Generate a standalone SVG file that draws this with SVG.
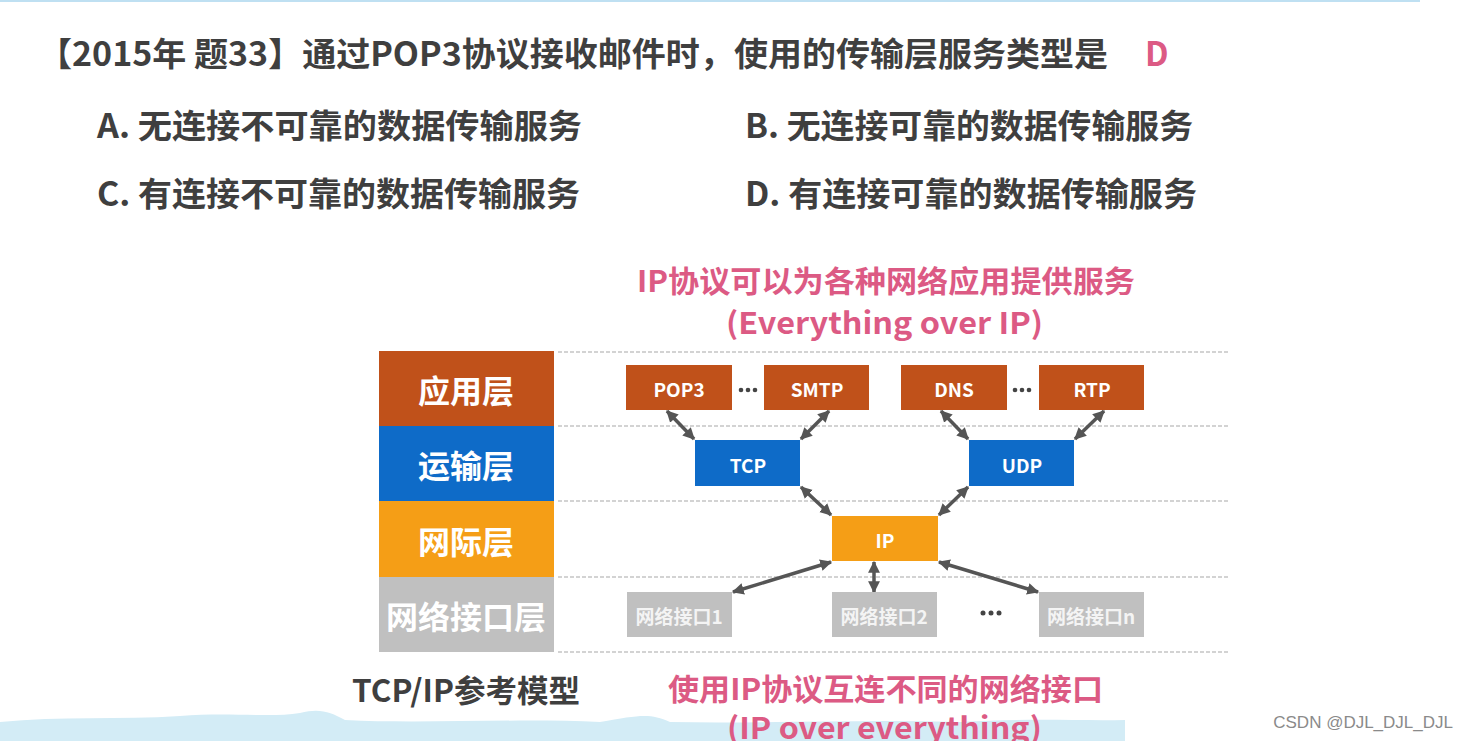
<svg xmlns="http://www.w3.org/2000/svg" width="1469" height="741" viewBox="0 0 1469 741">
<style>
.t{font-family:"Noto Sans CJK SC","Noto Sans",sans-serif;font-weight:bold;dominant-baseline:central}
.q{fill:#3f3f3f;font-size:33px}
.pk{fill:#dc5a84;font-size:30px}
.lay{fill:#ffffff;font-size:32px;text-anchor:middle}
.bx{fill:#ffffff;font-size:19px;text-anchor:middle}
.ni{fill:#f4f4f4;font-size:19px;text-anchor:middle}
.dash{stroke:#a8a8a8;stroke-width:1.2;stroke-dasharray:4 2;fill:none}
.arr{stroke:#555555;stroke-width:3.5;fill:none;marker-start:url(#ah);marker-end:url(#ah)}
.dot{fill:#444444}
</style>
<defs>
<marker id="ah" viewBox="0 0 10 10" refX="9" refY="5" markerWidth="3.4" markerHeight="3.6" orient="auto-start-reverse" markerUnits="strokeWidth">
<path d="M0,0 L10,5 L0,10 Z" fill="#555555"/>
</marker>
</defs>
<rect x="0" y="0" width="1469" height="741" fill="#ffffff"/>
<rect x="0" y="0" width="1420" height="2" fill="#bfe0f2"/>
<path d="M0,741 L0,722 C60,716 120,720 180,716 C230,712 270,718 300,713 C320,708 330,712 345,720 C420,724 520,718 600,722 C640,715 650,713 670,722 C760,724 860,719 960,722 C1030,718 1080,721 1125,720 L1125,741 Z" fill="#d3ecf6"/>

<g id="question">
<text class="t q" x="38" y="52" textLength="1070" lengthAdjust="spacingAndGlyphs">【2015年 题33】通过POP3协议接收邮件时，使用的传输层服务类型是</text>
<text class="t" x="1145" y="52" font-size="33" fill="#dc5a84">D</text>
<text class="t q" x="97" y="124" textLength="485" lengthAdjust="spacingAndGlyphs">A. 无连接不可靠的数据传输服务</text>
<text class="t q" x="745" y="124" textLength="448" lengthAdjust="spacingAndGlyphs">B. 无连接可靠的数据传输服务</text>
<text class="t q" x="97" y="192" textLength="483" lengthAdjust="spacingAndGlyphs">C. 有连接不可靠的数据传输服务</text>
<text class="t q" x="745" y="192" textLength="452" lengthAdjust="spacingAndGlyphs">D. 有连接可靠的数据传输服务</text>
</g>

<g id="caption-top">
<text class="t pk" x="637" y="279" textLength="498" lengthAdjust="spacingAndGlyphs">IP协议可以为各种网络应用提供服务</text>
<text class="t pk" x="726" y="321" textLength="317" lengthAdjust="spacingAndGlyphs">(Everything over IP)</text>
</g>

<g id="dashes">
<line class="dash" x1="558" y1="352" x2="1230" y2="352"/>
<line class="dash" x1="558" y1="426" x2="1230" y2="426"/>
<line class="dash" x1="558" y1="501" x2="1230" y2="501"/>
<line class="dash" x1="558" y1="577" x2="1230" y2="577"/>
<line class="dash" x1="558" y1="652" x2="1230" y2="652"/>
</g>

<g id="layers">
<g id="layer-app"><rect x="379" y="351" width="175" height="75" fill="#c0511a"/><text class="t lay" x="466" y="389">应用层</text></g>
<g id="layer-transport"><rect x="379" y="426" width="175" height="75" fill="#0e6bc8"/><text class="t lay" x="466" y="464">运输层</text></g>
<g id="layer-internet"><rect x="379" y="501" width="175" height="76" fill="#f59e16"/><text class="t lay" x="466" y="540">网际层</text></g>
<g id="layer-link"><rect x="379" y="577" width="175" height="75" fill="#c0c0c0"/><text class="t lay" x="466" y="615" fill="#f6f6f6">网络接口层</text></g>
</g>

<g id="connectors">
<line class="arr" x1="667" y1="411" x2="694" y2="439"/>
<line class="arr" x1="829" y1="411" x2="801" y2="439"/>
<line class="arr" x1="941" y1="411" x2="968" y2="439"/>
<line class="arr" x1="1104" y1="411" x2="1075" y2="439"/>
<line class="arr" x1="801" y1="487" x2="831" y2="515"/>
<line class="arr" x1="968" y1="487" x2="939" y2="515"/>
<line class="arr" x1="831" y1="562" x2="733" y2="592"/>
<line class="arr" x1="874" y1="562" x2="874" y2="592"/>
<line class="arr" x1="939" y1="562" x2="1038" y2="592"/>
</g>

<g id="node-pop3"><rect x="626" y="365" width="106" height="45" fill="#c0511a"/><text class="t bx" x="679" y="388">POP3</text></g>
<g id="dots-1"><circle class="dot" cx="741" cy="390" r="2.3"/><circle class="dot" cx="748" cy="390" r="2.3"/><circle class="dot" cx="755" cy="390" r="2.3"/></g>
<g id="node-smtp"><rect x="764" y="365" width="105" height="45" fill="#c0511a"/><text class="t bx" x="817" y="388">SMTP</text></g>
<g id="node-dns"><rect x="901" y="365" width="106" height="45" fill="#c0511a"/><text class="t bx" x="954" y="388">DNS</text></g>
<g id="dots-2"><circle class="dot" cx="1015" cy="390" r="2.3"/><circle class="dot" cx="1022" cy="390" r="2.3"/><circle class="dot" cx="1029" cy="390" r="2.3"/></g>
<g id="node-rtp"><rect x="1039" y="365" width="105" height="45" fill="#c0511a"/><text class="t bx" x="1092" y="388">RTP</text></g>
<g id="node-tcp"><rect x="695" y="440" width="105" height="46" fill="#0e6bc8"/><text class="t bx" x="748" y="464">TCP</text></g>
<g id="node-udp"><rect x="969" y="440" width="105" height="46" fill="#0e6bc8"/><text class="t bx" x="1022" y="464">UDP</text></g>
<g id="node-ip"><rect x="832" y="516" width="106" height="45" fill="#f59e16"/><text class="t bx" x="885" y="539">IP</text></g>
<g id="node-ni1"><rect x="627" y="592" width="105" height="45" fill="#c0c0c0"/><text class="t ni" x="679" y="615">网络接口1</text></g>
<g id="node-ni2"><rect x="832" y="592" width="105" height="45" fill="#c0c0c0"/><text class="t ni" x="884" y="615">网络接口2</text></g>
<g id="dots-3"><circle class="dot" cx="983" cy="613" r="2.5"/><circle class="dot" cx="991" cy="613" r="2.5"/><circle class="dot" cx="999" cy="613" r="2.5"/></g>
<g id="node-nin"><rect x="1039" y="592" width="105" height="45" fill="#c0c0c0"/><text class="t ni" x="1091" y="615">网络接口n</text></g>

<g id="caption-bottom">
<text class="t" x="352" y="688" font-size="31" fill="#3f3f3f" textLength="228" lengthAdjust="spacingAndGlyphs">TCP/IP参考模型</text>
<text class="t pk" x="668" y="687" textLength="435" lengthAdjust="spacingAndGlyphs">使用IP协议互连不同的网络接口</text>
<text class="t pk" x="727" y="726" textLength="315" lengthAdjust="spacingAndGlyphs">(IP over everything)</text>
</g>
<text x="1453" y="722" font-family="'Liberation Sans',sans-serif" font-size="17" fill="#8a8a8a" text-anchor="end" dominant-baseline="central">CSDN @DJL_DJL_DJL</text>
</svg>
